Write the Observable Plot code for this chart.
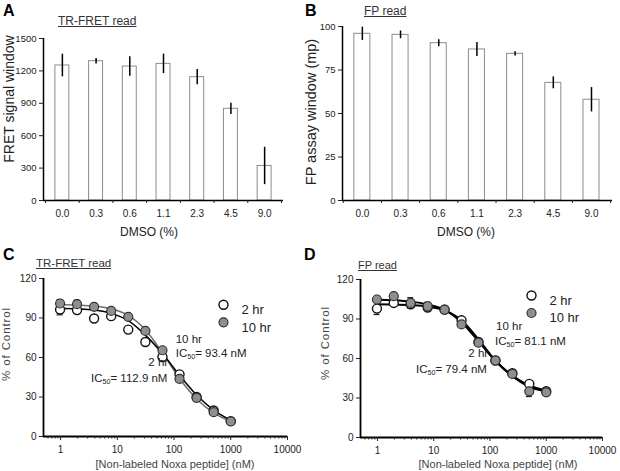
<!DOCTYPE html>
<html><head><meta charset="utf-8">
<script src="https://cdn.jsdelivr.net/npm/d3@7"></script>
<script src="https://cdn.jsdelivr.net/npm/@observablehq/plot@0.6"></script>
<style>
html,body{margin:0;padding:0;background:#fff;}
#fig{position:relative;width:620px;height:471px;overflow:hidden;font-family:"Liberation Sans",Arial,sans-serif;color:#222;background:#fff;}
.abs{position:absolute;line-height:1;white-space:nowrap;}
.panel{position:absolute;}
.panel svg{overflow:visible;}
sub{font-size:0.62em;vertical-align:-0.28em;line-height:0;}
</style></head>
<body><div id="fig"></div>
<script>
// ---------- data ----------
const dmsoLabels = ["0.0","0.3","0.6","1.1","2.3","4.5","9.0"];
const fretWindow = [1250,1290,1240,1265,1142,849,320];
const fretErr    = [105,25,90,90,70,52,173];
const fpWindow   = [95.8,95.2,90.4,86.8,84.3,67.6,57.9];
const fpErr      = [3.8,2.2,2.0,4.0,1.2,3.4,7.0];
const fretTicks  = [0,300,600,900,1200,1500];
const fpTicks    = [0,25,50,75,100];

const conc = [0.98,1.95,3.9,7.8,15.6,31.25,62.5,125,250,500,1000];
// Panel C (TR-FRET read)
const c2hr   = [96.4,96.0,89.6,91.4,81.2,71.8,60.4,47.2,30.0,19.8,11.7];
const c10hr  = [101.0,100.5,98.5,95.4,90.9,80.2,65.5,43.7,29.4,18.5,11.4];
const c2hrErr  = [4,0,0,0,0,0,0,0,0,0,0];
const c10hrErr = [3,3,0,0,0,0,0,0,2,0,0];
const c2hrFit  = [97.5,97.0,96.0,93.5,88.0,77.0,63.0,46.5,31.5,20.0,12.3];
const c10hrFit = [100.2,99.8,99.0,97.0,92.0,81.0,63.5,44.0,28.5,18.0,11.4];
// Panel D (FP read)
const d2hr   = [97.9,102.2,101.2,98.7,97.1,89.0,72.5,58.5,48.8,40.7,35.1];
const d10hr  = [104.8,107.3,102.2,99.7,97.1,85.9,72.0,58.5,48.3,35.1,34.3];
const d2hrErr  = [4.5,0,0,0,0,0,0,0,0,0,0];
const d10hrErr = [0,0,4,3,0,0,0,0,0,4,0];
const d2hrFit  = [101.2,101.0,100.5,99.4,96.5,89.0,74.5,58.5,47.0,39.5,35.5];
const d10hrFit = [104.6,104.2,103.2,101.0,97.0,87.5,73.0,58.0,46.5,38.5,35.0];

const pctTicks = [0,30,60,90,120];
const logTicks = [1,10,100,1000,10000];
const minorTicks = [0.6,0.7,0.8,0.9,2,3,4,5,6,7,8,9,20,30,40,50,60,70,80,90,
  200,300,400,500,600,700,800,900,2000,3000,4000,5000,6000,7000,8000,9000];
const legendLabels = ["2 hr","10 hr"];

// ---------- helpers ----------
const fig = document.getElementById("fig");
function place(node, left, top){
  const d = document.createElement("div");
  d.className = "panel";
  d.style.left = left + "px"; d.style.top = top + "px";
  d.appendChild(node); fig.appendChild(d);
}
function text(html, x, y, size, extra = {}){
  const d = document.createElement("div");
  d.className = "abs";
  d.innerHTML = html;
  d.style.fontSize = size + "px";
  if (extra.rotate){
    d.style.left = x + "px"; d.style.top = y + "px";
    d.style.transform = "translate(-50%,-50%) rotate(-90deg)";
  } else if (extra.center){
    d.style.left = x + "px"; d.style.top = (y - size/2) + "px";
    d.style.transform = "translateX(-50%)";
  } else {
    d.style.left = x + "px"; d.style.top = (y - size/2) + "px";
  }
  for (const k of ["fontWeight","color","textDecoration","letterSpacing"]) if (extra[k]) d.style[k] = extra[k];
  fig.appendChild(d);
}
const baseStyle = {fontFamily:'"Liberation Sans",Arial,sans-serif', fontSize:"10px", color:"#222", background:"transparent"};

function barPanel({values, errs, ticks, yMax, width, height, ml, mr, mt, mb, xDom, half}){
  const rows = values.map((v,i)=>({i, v, e: errs[i]}));
  const idx = values.map((_,i)=>i);
  const bounds = [-0.5, ...idx.map(i=>i+0.5)];
  return Plot.plot({
    width, height, marginLeft: ml, marginRight: mr, marginTop: mt, marginBottom: mb,
    x: {type:"linear", domain: xDom},
    y: {domain:[0,yMax]},
    style: baseStyle,
    marks: [
      Plot.rect(rows, {x1: d=>d.i-half, x2: d=>d.i+half, y1: 0, y2: "v", fill:"white", stroke:"#8c8c8c", strokeWidth:1}),
      Plot.ruleX(rows, {x:"i", y1: d=>d.v-d.e, y2: d=>d.v+d.e, stroke:"#000", strokeWidth:1.5}),
      Plot.ruleX([xDom[0]], {stroke:"#000", strokeWidth:1.5}),
      Plot.ruleY([0], {stroke:"#000", strokeWidth:1.5}),
      Plot.axisY({ticks, tickFormat: d=>String(d), tickSize:4, tickPadding:3, label:null, fontSize:9.5}),
      Plot.axisX({ticks: idx, tickFormat: i=>dmsoLabels[i], tickSize:0, tickPadding:9, label:null, fontSize:10}),
      Plot.axisX({ticks: bounds, tickFormat: ()=>"", tickSize:3, label:null})
    ]
  });
}

function curvePanel({s2, s10, e2, e10, f2, f10, width, height, ml, mr, mt, mb, line10, lineW, legDx, legDy}){
  const rows = conc.map((c,i)=>({c, a: s2[i], b: s10[i], ea: e2[i], eb: e10[i], fa: f2[i], fb: f10[i]}));
  const errRows = [];
  rows.forEach(r=>{
    if (r.ea>0) errRows.push({c:r.c, v:r.a, e:r.ea});
    if (r.eb>0) errRows.push({c:r.c, v:r.b, e:r.eb});
  });
  const caps = errRows.flatMap(r=>[{c:r.c, y:r.v-r.e},{c:r.c, y:r.v+r.e}]);
  const xDom = [0.5, 10000];
  return Plot.plot({
    width, height, marginLeft: ml, marginRight: mr, marginTop: mt, marginBottom: mb,
    x: {type:"log", domain: xDom},
    y: {domain:[0,120]},
    style: baseStyle,
    marks: [
      Plot.ruleX([xDom[0]], {stroke:"#000", strokeWidth:1.8}),
      Plot.ruleY([0], {stroke:"#000", strokeWidth:1.8}),
      Plot.axisY({ticks: pctTicks, tickFormat: d=>String(d), tickSize:4, tickPadding:3, label:null, fontSize:10}),
      Plot.axisX({ticks: logTicks, tickFormat: d=>String(d), tickSize:4, tickPadding:5, label:null, fontSize:10}),
      Plot.axisX({ticks: minorTicks, tickFormat: ()=>"", tickSize:2.5, label:null}),
      Plot.line(rows, {x:"c", y:"fb", curve:"monotone-x", stroke: line10, strokeWidth: lineW}),
      Plot.line(rows, {x:"c", y:"fa", curve:"monotone-x", stroke:"#000", strokeWidth: lineW}),
      Plot.ruleX(errRows, {x:"c", y1: d=>d.v-d.e, y2: d=>d.v+d.e, stroke:"#222", strokeWidth:1.2}),
      Plot.ruleY(caps, {y:"y", x1: d=>d.c/1.13, x2: d=>d.c*1.13, stroke:"#222", strokeWidth:1.2}),
      Plot.dot(rows, {x:"c", y:"a", r:4.5, fill:"white", stroke:"#111", strokeWidth:1.4}),
      Plot.dot(rows, {x:"c", y:"b", r:4.5, fill:"#8f8f8f", stroke:"#333", strokeWidth:1.2}),
      // legend
      Plot.dot([legendLabels[0]], {frameAnchor:"top-left", dx:legDx, dy:legDy, r:4.5, fill:"white", stroke:"#111", strokeWidth:1.4}),
      Plot.dot([legendLabels[1]], {frameAnchor:"top-left", dx:legDx, dy:legDy+17.5, r:4.5, fill:"#8f8f8f", stroke:"#333", strokeWidth:1.2}),
      Plot.text([legendLabels[0]], {frameAnchor:"top-left", dx:legDx+18, dy:legDy, text:d=>d, textAnchor:"start", fontSize:13, fill:"#222"}),
      Plot.text([legendLabels[1]], {frameAnchor:"top-left", dx:legDx+18, dy:legDy+17.5, text:d=>d, textAnchor:"start", fontSize:13, fill:"#222"})
    ]
  });
}

// ---------- panels ----------
place(barPanel({values: fretWindow, errs: fretErr, ticks: fretTicks, yMax:1500,
  width:300, height:235, ml:43, mr:17, mt:38, mb:35, xDom:[-0.56,6.56], half:0.207}), 0, 0);
place(barPanel({values: fpWindow, errs: fpErr, ticks: fpTicks, yMax:100,
  width:320, height:235, ml:42, mr:8, mt:26, mb:35, xDom:[-0.52,6.55], half:0.21}), 300, 0);
place(curvePanel({s2:c2hr, s10:c10hr, e2:c2hrErr, e10:c10hrErr, f2:c2hrFit, f10:c10hrFit,
  width:300, height:236, ml:43, mr:13, mt:43, mb:35, line10:"#6e6e6e", lineW:1.5, legDx:180, legDy:26.3}), 0, 235);
place(curvePanel({s2:d2hr, s10:d10hr, e2:d2hrErr, e10:d10hrErr, f2:d2hrFit, f10:d10hrFit,
  width:310, height:236, ml:50, mr:18, mt:44, mb:34, line10:"#000", lineW:2, legDx:171, legDy:16}), 310, 235);

// ---------- text ----------
text("A", 3, 10.5, 16, {fontWeight:"bold", color:"#000"});
text("B", 305, 10.5, 16, {fontWeight:"bold", color:"#000"});
text("C", 3, 255, 16, {fontWeight:"bold", color:"#000"});
text("D", 304, 255, 16, {fontWeight:"bold", color:"#000"});

text("TR-FRET read", 58, 20.5, 12, {textDecoration:"underline", color:"#333"});
text("FP read", 364, 10.5, 12, {textDecoration:"underline", color:"#333"});
text("TR-FRET read", 36, 263.5, 11.5, {textDecoration:"underline", color:"#333"});
text("FP read", 358, 265, 11, {textDecoration:"underline", color:"#333"});

text("FRET signal window", 8.5, 99, 14, {rotate:true, color:"#222"});
text("FP assay window (mp)", 310.5, 112, 14.5, {rotate:true, color:"#222"});
text("DMSO (%)", 149, 231.7, 12, {center:true, color:"#222"});
text("DMSO (%)", 466, 231.7, 12, {center:true, color:"#222"});

text("% of Control", 7, 344, 11.5, {rotate:true, color:"#444", letterSpacing:"0.9px"});
text("% of Control", 326, 342.5, 11.5, {rotate:true, color:"#444", letterSpacing:"0.9px"});
text("[Non-labeled Noxa peptide] (nM)", 175, 464, 11, {center:true, color:"#444"});
text("[Non-labeled Noxa peptide] (nM)", 498, 464, 11, {center:true, color:"#444"});

text("10 hr", 175.7, 340, 11.5);
text("IC<sub>50</sub>= 93.4 nM", 175.7, 353.3, 11.5);
text("2 hr", 148.3, 362.7, 11.5);
text("IC<sub>50</sub>= 112.9 nM", 91, 378.3, 11.5);
text("10 hr", 496, 326.7, 11.5);
text("IC<sub>50</sub>= 81.1 nM", 495, 341.7, 11.5);
text("2 hr", 468.3, 353.3, 11.5);
text("IC<sub>50</sub>= 79.4 nM", 416, 370, 11.5);
</script>
</body></html>
